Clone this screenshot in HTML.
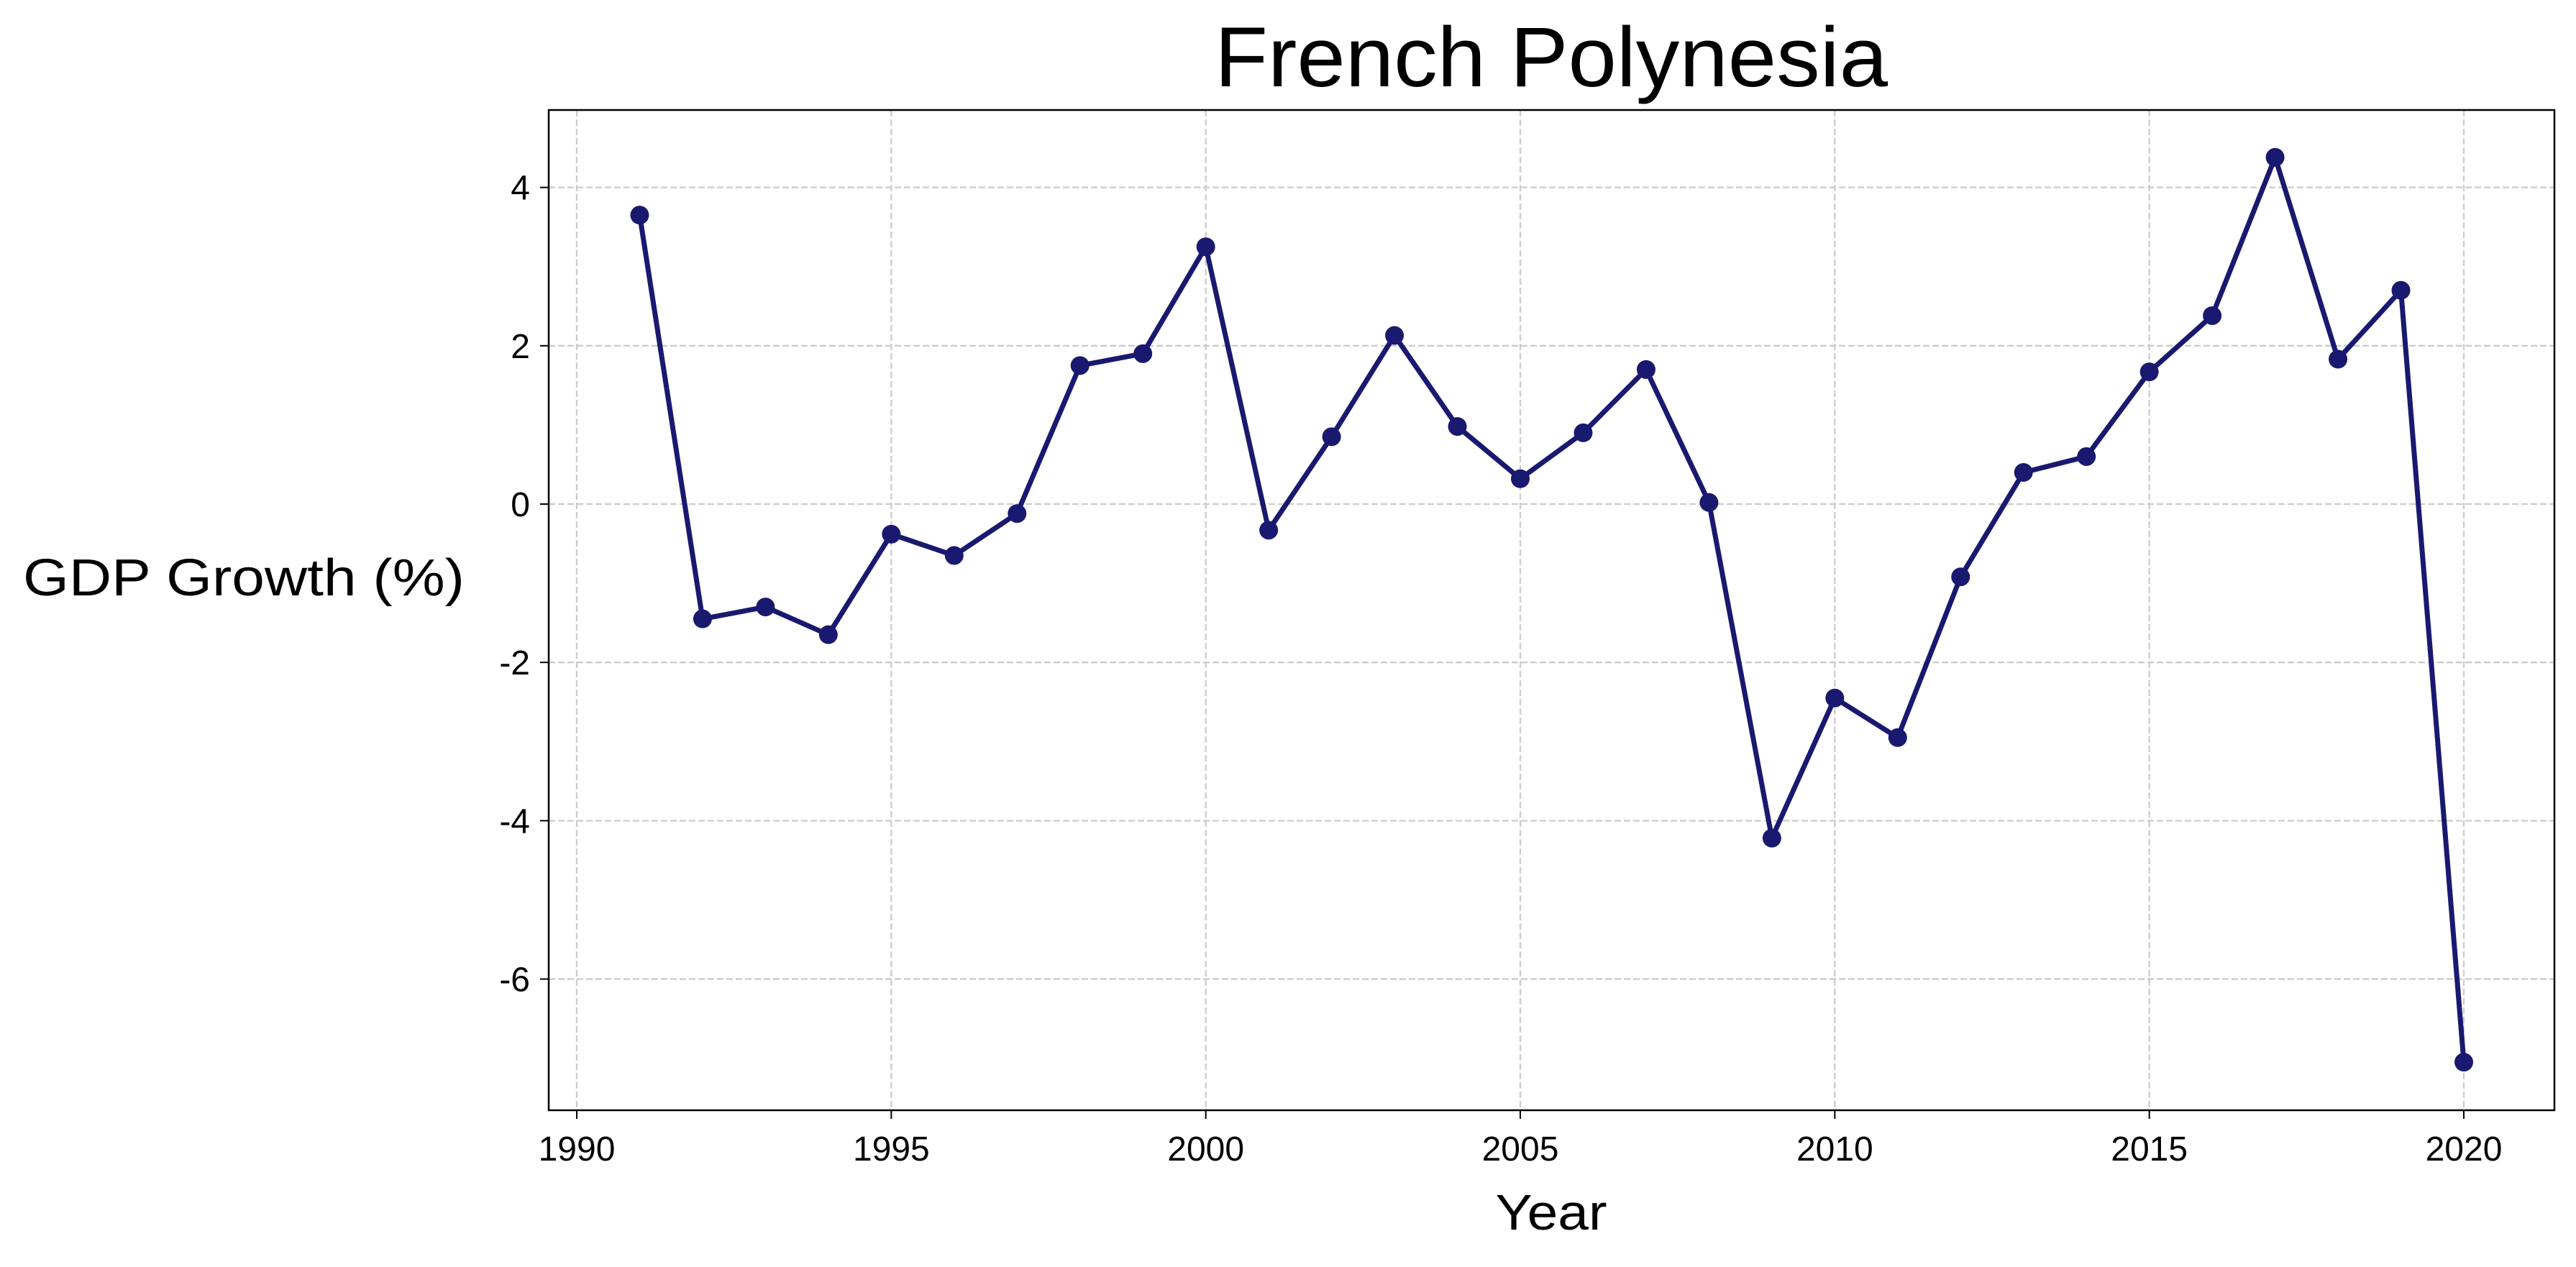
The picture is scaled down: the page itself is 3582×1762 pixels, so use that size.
<!DOCTYPE html>
<html><head><meta charset="utf-8"><style>
html,body{margin:0;padding:0;background:#fff;}
svg{display:block;font-family:"Liberation Sans","Noto Sans CJK KR",sans-serif;}
</style></head><body>
<svg id="chart" width="3582" height="1762" viewBox="0 0 3582 1762" xmlns="http://www.w3.org/2000/svg">
<rect width="3582" height="1762" fill="#fff"/>
<g id="grid"></g><g id="series"></g><g id="axes"></g>
<text x="2157" y="120" font-size="118" text-anchor="middle" textLength="936" lengthAdjust="spacingAndGlyphs" fill="#000">French Polynesia</text>
<text x="2157" y="1710" font-size="70" text-anchor="middle" textLength="155" lengthAdjust="spacingAndGlyphs" fill="#000">Year</text>
<text x="339" y="828" font-size="72" text-anchor="middle" textLength="614" lengthAdjust="spacingAndGlyphs" fill="#000">GDP Growth (%)</text>
</svg>
<script>
const years=[1991,1992,1993,1994,1995,1996,1997,1998,1999,2000,2001,2002,2003,2004,2005,2006,2007,2008,2009,2010,2011,2012,2013,2014,2015,2016,2017,2018,2019,2020];
const growth=[3.65,-1.45,-1.3,-1.65,-0.38,-0.65,-0.12,1.75,1.9,3.25,-0.33,0.85,2.13,0.98,0.32,0.9,1.7,0.02,-4.22,-2.45,-2.95,-0.92,0.4,0.6,1.67,2.38,4.38,1.83,2.7,-7.05];
const xTicks=[1990,1995,2000,2005,2010,2015,2020];
const yTicks=[-6,-4,-2,0,2,4];
const NS="http://www.w3.org/2000/svg";
const L=763,R=3552,T=153,B=1544;
function xs(v){return 802+(v-1990)*(3426-802)/30;}
function ys(v){return 701-v*(1361.3-260.4)/10;}
function mk(tag,attrs,parent){const e=document.createElementNS(NS,tag);for(const k in attrs)e.setAttribute(k,attrs[k]);parent.appendChild(e);return e;}
const grid=document.getElementById('grid'),axes=document.getElementById('axes'),ser=document.getElementById('series');
xTicks.forEach(t=>{
 const g=mk('line',{x1:xs(t),x2:xs(t),y1:T,y2:B,stroke:'#cccccc','stroke-width':2.3,'stroke-dasharray':'9,4'},grid);
 
 
 mk('line',{x1:xs(t),x2:xs(t),y1:B,y2:B+12,stroke:'#000','stroke-width':2},axes);
 const tx=mk('text',{x:xs(t),y:1614,'font-size':48,'text-anchor':'middle',fill:'#000'},axes);
 tx.textContent=t;
 
 
});
yTicks.forEach(t=>{
 const g=mk('line',{x1:L,x2:R,y1:ys(t),y2:ys(t),stroke:'#cccccc','stroke-width':2.3,'stroke-dasharray':'9,4'},grid);
 
 
 mk('line',{x1:L-12,x2:L,y1:ys(t),y2:ys(t),stroke:'#000','stroke-width':2},axes);
 const tx=mk('text',{x:737,y:ys(t)+17,'font-size':48,'text-anchor':'end',fill:'#000'},axes);
 tx.textContent=t;
 
 
});
const frame=mk('rect',{x:L,y:T,width:R-L,height:B-T,fill:'none',stroke:'#000','stroke-width':2.5},axes);


const pts=years.map((y,i)=>xs(y)+','+ys(growth[i])).join(' ');
const line=mk('polyline',{points:pts,fill:'none',stroke:'#191970','stroke-width':7,'stroke-linejoin':'round'},ser);


years.forEach((y,i)=>{
 const c=mk('circle',{cx:xs(y),cy:ys(growth[i]),r:13,fill:'#191970'},ser);
 
 
});
</script>
</body></html>
